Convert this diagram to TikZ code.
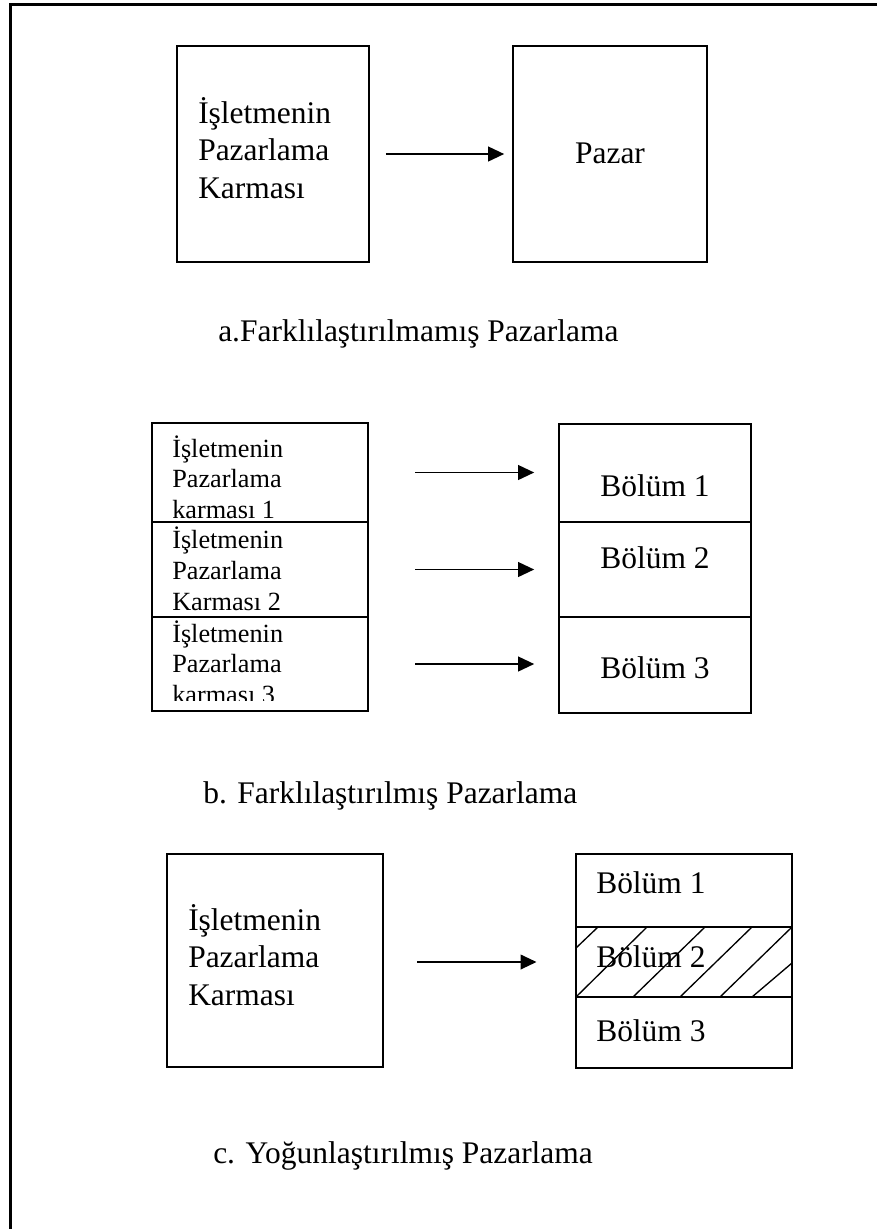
\documentclass[tikz,border=0pt]{standalone}
\usepackage{fontspec}
\setmainfont{Liberation Serif}
\newfontfamily\timesface{Liberation Serif}
\usetikzlibrary{arrows.meta,fit}
\begin{document}
\begin{tikzpicture}[x=0.75pt,y=-0.75pt,
  box/.style={draw, line width=1.2pt, inner sep=0pt, rectangle},
  link/.style={line width=1.4pt, -{Triangle[length=12pt,width=11pt]}},
  big/.style={font=\timesface\fontsize{23.6}{28}\selectfont, inner sep=0pt, anchor=base west},
  bigc/.style={font=\timesface\fontsize{23.6}{28}\selectfont, inner sep=0pt, anchor=base},
  small/.style={font=\timesface\fontsize{19.7}{23}\selectfont, inner sep=0pt, anchor=base west},
  hatch/.style={line width=1pt}]
\useasboundingbox (0,0) rectangle (877,1229);
\clip (0,0) rectangle (877,1229);
% page frame
\draw[line width=2.2pt] (10.5,1260) -- (10.5,4.5) -- (900,4.5);

% a. undifferentiated marketing
\node[box, fit={(177,46)(369,262)}] (aMix) {};
\node[big] (aMixL1) at (198,123) {İşletmenin};
\node[big] (aMixL2) at (198,160.5) {Pazarlama};
\node[big] (aMixL3) at (198,198) {Karması};
\node[box, fit={(513,46)(707,262)}] (aMarket) {};
\node[bigc] (aMarketL) at (610,163) {Pazar};
\draw[link, shorten <=12pt, shorten >=6pt] (aMix.east) -- (aMix.east -| aMarket.west);
\node[big] (aCap) at (218,341) {a.Farklılaştırılmamış Pazarlama};

% b. differentiated marketing
\node[box, fit={(152,423)(368,522)}] (bMix1) {};
\node[box, fit={(152,522)(368,617)}] (bMix2) {};
\node[box, fit={(152,617)(368,711)}] (bMix3) {};
\node[small] (bMix1L1) at (172,457) {İşletmenin};
\node[small] (bMix1L2) at (172,487.5) {Pazarlama};
\node[small] (bMix1L3) at (172,518) {karması 1};
\node[small] (bMix2L1) at (172,548.5) {İşletmenin};
\node[small] (bMix2L2) at (172,579) {Pazarlama};
\node[small] (bMix2L3) at (172,610) {Karması 2};
\begin{scope}
  \clip (152,617) rectangle (368,700);
  \node[small] (bMix3L1) at (172,642) {İşletmenin};
  \node[small] (bMix3L2) at (172,672.5) {Pazarlama};
  \node[small] (bMix3L3) at (172,703) {karması 3};
\end{scope}
\node[box, fit={(559,424)(751,522)}] (bSeg1) {};
\node[box, fit={(559,522)(751,617)}] (bSeg2) {};
\node[box, fit={(559,617)(751,713)}] (bSeg3) {};
\node[bigc] (bSeg1L) at (655,496) {Bölüm 1};
\node[bigc] (bSeg2L) at (655,568) {Bölüm 2};
\node[bigc] (bSeg3L) at (655,678) {Bölüm 3};
\draw[link, shorten <=35pt, shorten >=18pt] (bMix1.east) -- (bMix1.east -| bSeg1.west);
\draw[link, shorten <=35pt, shorten >=18pt] (bMix2.east) -- (bMix2.east -| bSeg2.west);
\draw[link, shorten <=35pt, shorten >=18pt] (bMix3.east) -- (bMix3.east -| bSeg3.west);
\node[big] (bCap) at (203,803) {b. Farklılaştırılmış Pazarlama};

% c. concentrated marketing
\node[box, fit={(167,854)(383,1067)}] (cMix) {};
\node[big] (cMixL1) at (188,930) {İşletmenin};
\node[big] (cMixL2) at (188,967.5) {Pazarlama};
\node[big] (cMixL3) at (188,1005) {Karması};
\node[box, fit={(576,854)(792,927)}] (cSeg1) {};
\node[box, fit={(576,927)(792,997)}] (cSeg2) {};
\node[box, fit={(576,997)(792,1068)}] (cSeg3) {};
\node[big] (cSeg1L) at (596,893) {Bölüm 1};
\node[big] (cSeg2L) at (596,967) {Bölüm 2};
\node[big] (cSeg3L) at (596,1041) {Bölüm 3};
% hatching of the chosen segment
\draw[hatch] (576,948) -- (598,927);
\draw[hatch] (577,996) -- (647,927);
\draw[hatch] (633,997) -- (705,927);
\draw[hatch] (680,997) -- (752,927);
\draw[hatch] (720,997) -- (792,927);
\draw[hatch] (752,997) -- (792,963);
\draw[link, shorten <=25pt, shorten >=29pt] (cSeg2.west -| cMix.east) -- (cSeg2.west);
\node[big] (cCap) at (213,1163) {c. Yoğunlaştırılmış Pazarlama};
\end{tikzpicture}
\end{document}
